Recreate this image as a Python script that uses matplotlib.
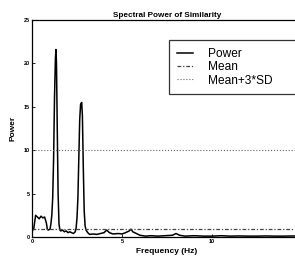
import matplotlib
matplotlib.use("Agg")
import matplotlib.pyplot as plt

plt.rcParams['font.family'] = ['Liberation Sans', 'DejaVu Sans']

freq = [0.0, 0.1, 0.2, 0.3, 0.4, 0.5, 0.6, 0.7, 0.8, 0.85, 0.9, 1.0, 1.05, 1.1, 1.15, 1.2, 1.25,
        1.3, 1.33, 1.36, 1.4, 1.45, 1.5, 1.55, 1.6, 1.7, 1.8, 1.9, 2.0, 2.1, 2.2, 2.3, 2.4,
        2.45, 2.5, 2.55, 2.6, 2.65, 2.7, 2.76, 2.8, 2.85, 2.9, 2.95, 3.0, 3.1, 3.2, 3.4,
        3.6, 3.8, 4.0, 4.15, 4.3, 4.5, 4.8, 5.0, 5.2, 5.4, 5.5, 5.6, 5.8, 6.0, 6.3, 6.6,
        7.0, 7.4, 7.8, 8.0, 8.2, 8.5, 9.0, 9.5, 10.0, 10.5, 11.0, 11.5, 12.0, 12.5, 13.0,
        13.5, 14.0, 14.5, 15.0]
power = [0.6, 1.0, 2.5, 2.3, 2.1, 2.4, 2.2, 2.3, 1.6, 0.9, 0.8, 0.9, 1.5, 2.5, 4.5, 9.0, 16.0,
         20.5, 21.6, 20.0, 13.0, 5.0, 1.5, 0.8, 0.7, 0.8, 0.6, 0.7, 0.5, 0.6, 0.5, 0.4, 0.6,
         1.0, 2.2, 4.5, 9.0, 13.5, 15.3, 15.5, 14.0, 8.0, 3.0, 1.3, 0.8, 0.5, 0.3, 0.35,
         0.3, 0.4, 0.5, 0.8, 0.5, 0.35, 0.4, 0.35, 0.5, 0.7, 0.9, 0.6, 0.4, 0.2, 0.1, 0.15,
         0.1, 0.15, 0.2, 0.4, 0.2, 0.1, 0.15, 0.1, 0.1, 0.15, 0.1, 0.12, 0.1, 0.1, 0.12,
         0.1, 0.1, 0.12, 0.1]
mean_val = 0.9
mean_3sd = 10.0

x_ticks = [0, 5, 10]
y_ticks = [0, 5, 10, 15, 20, 25]

fig = plt.figure(figsize=(2.95, 2.6), dpi=100)
ax = fig.add_axes([32/295, 23/260, 270/295, 217/260])

ax.plot(freq, power, color='black', lw=1.1, label='Power')
ax.axhline(mean_val, color='#444444', lw=0.9, ls='-.', dashes=(3, 1.5, 1, 1.5), label='Mean')
ax.axhline(mean_3sd, color='#666666', lw=0.8, ls=':', label='Mean+3*SD')

ax.set_xlim(0, 15)
ax.set_ylim(0, 25)
ax.set_xticks(x_ticks)
ax.set_yticks(y_ticks)
ax.tick_params(direction='in', length=2, width=0.6, labelsize=4, pad=1.5)
for lab in ax.get_xticklabels() + ax.get_yticklabels():
    lab.set_fontweight('bold')
for s in ax.spines.values():
    s.set_linewidth(0.9)

ax.set_title('Spectral Power of Similarity', fontsize=5.9, fontweight='bold', pad=2.5)
ax.set_xlabel('Frequency (Hz)', fontsize=6, fontweight='bold', labelpad=3)
ax.set_ylabel('Power', fontsize=6, fontweight='bold', labelpad=5)

x0 = (169 - 32) / 270
y1 = (237 - 40) / 217
leg = ax.legend(loc='upper left', bbox_to_anchor=(x0, y1 - 0.3, 1.2 - x0, 0.3),
                mode='expand',
                fontsize=8.6, frameon=True, fancybox=False, edgecolor='black',
                handlelength=1.4, handletextpad=1.2, labelspacing=0.12,
                borderpad=0.65, borderaxespad=0)
leg.get_frame().set_linewidth(0.9)

fig.savefig('out.png', dpi=100)
